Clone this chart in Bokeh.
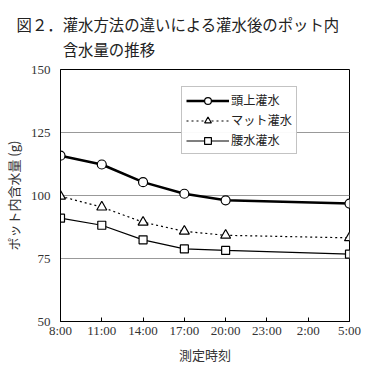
from bokeh.plotting import figure
from bokeh.models import Legend, LegendItem, FixedTicker
from bokeh.embed import file_html
from bokeh.resources import INLINE

# hours elapsed from 8:00
hours = [0, 3, 6, 9, 12, 21]
tick_hours = [0, 3, 6, 9, 12, 15, 18, 21]
tick_labels = ["8:00", "11:00", "14:00", "17:00", "20:00", "23:00", "2:00", "5:00"]

overhead = [115.8, 112.3, 105.3, 100.7, 98.1, 96.8]   # 頭上灌水
mat = [99.7, 95.4, 89.4, 85.8, 84.2, 83.2]            # マット灌水
bottom = [91.0, 88.2, 82.4, 78.8, 78.2, 76.7]         # 腰水灌水

names = ["頭上灌水", "マット灌水", "腰水灌水"]
title1 = "図２．灌水方法の違いによる灌水後のポット内"
title2 = "　　　含水量の推移"
xlabel = "測定時刻"
ylabel = "ポット内含水量 (g)"

JP = "Noto Sans CJK JP"
SERIF = "Liberation Serif"

p = figure(width=362, height=366, output_backend="svg", toolbar_location=None,
           x_range=(0, 21), y_range=(50, 150),
           min_border_left=59, min_border_right=13, min_border_bottom=45, min_border_top=69)

p.title.text = title1 + "\n" + title2
p.title.text_font = JP
p.title.text_font_size = "15.4px"
p.title.text_font_style = "normal"
p.title.text_color = "#222222"
p.title.text_line_height = 1.125
p.title.align = "left"
p.title.offset = -44
p.title.standoff = 20

p.background_fill_color = "white"
p.outline_line_color = "black"
p.outline_line_width = 1

p.xgrid.visible = False
p.ygrid.ticker = FixedTicker(ticks=[75, 100, 125])
p.ygrid.grid_line_color = "#999999"
p.ygrid.grid_line_width = 1

p.xaxis.ticker = FixedTicker(ticks=tick_hours)
p.xaxis.major_label_overrides = {h: l for h, l in zip(tick_hours, tick_labels)}
p.yaxis.ticker = FixedTicker(ticks=[50, 75, 100, 125, 150])

for ax in (p.xaxis[0], p.yaxis[0]):
    ax.axis_line_color = "black"
    ax.minor_tick_line_color = None
    ax.major_label_text_font = SERIF
    ax.major_label_text_font_size = "13px"
    ax.major_label_text_color = "#333333"
    ax.axis_label_text_font = JP
    ax.axis_label_text_font_size = "13px"
    ax.axis_label_text_font_style = "normal"
    ax.axis_label_text_color = "#333333"

p.xaxis.major_tick_in = 4
p.xaxis.major_tick_out = 0
p.xaxis.major_label_standoff = 1
p.xaxis.axis_label = xlabel
p.xaxis.axis_label_standoff = 4

p.yaxis.major_tick_in = 0
p.yaxis.major_tick_out = 0
p.yaxis.major_label_standoff = 10
p.yaxis.axis_label = ylabel
p.yaxis.axis_label_standoff = 5

l1 = p.line(hours, overhead, line_color="black", line_width=2.5)
s1 = p.scatter(hours, overhead, marker="circle", size=9, fill_color="white",
               line_color="black", line_width=1.2)
l2 = p.line(hours, mat, line_color="black", line_width=1.2, line_dash="2 3")
s2 = p.scatter(hours, mat, marker="triangle", size=10, fill_color="white",
               line_color="black", line_width=1.2)
l3 = p.line(hours, bottom, line_color="black", line_width=1.2)
s3 = p.scatter(hours, bottom, marker="square", size=8, fill_color="white",
               line_color="black", line_width=1.2)

legend = Legend(items=[LegendItem(label=names[0], renderers=[l1, s1]),
                       LegendItem(label=names[1], renderers=[l2, s2]),
                       LegendItem(label=names[2], renderers=[l3, s3])],
                location=(121, 167))
legend.label_text_font = JP
legend.label_text_font_size = "12.2px"
legend.label_text_color = "#222222"
legend.glyph_width = 43
legend.glyph_height = 17
legend.label_height = 17
legend.label_standoff = 2
legend.spacing = 2
legend.padding = 4
legend.margin = 0
legend.border_line_color = "#888888"
legend.border_line_width = 1
legend.background_fill_color = "white"
p.add_layout(legend, "center")

open("out.html", "w").write(file_html(p, INLINE))
